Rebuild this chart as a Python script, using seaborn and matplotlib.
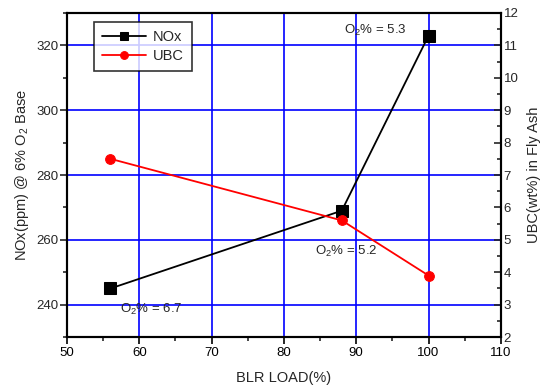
import matplotlib
matplotlib.use("Agg")
import matplotlib.pyplot as plt
import seaborn as sns
import pandas as pd
from matplotlib.ticker import MultipleLocator

load = [56, 88, 100]
nox = [245, 269, 323]
ubc = [7.5, 5.6, 3.9]
o2_labels = ["O$_2$% = 6.7", "O$_2$% = 5.2", "O$_2$% = 5.3"]

sns.set_theme(style="white")
plt.rcParams['font.family'] = ['Liberation Sans', 'DejaVu Sans']
plt.rcParams['mathtext.fontset'] = 'custom'
plt.rcParams['mathtext.rm'] = 'Liberation Sans'
plt.rcParams['mathtext.it'] = 'Liberation Sans'

df = pd.DataFrame({"load": load, "nox": nox, "ubc": ubc})

fig = plt.figure(figsize=(5.45, 3.92), dpi=100)
ax = fig.add_axes([0.123, 0.140, 0.796, 0.827])
ax2 = ax.twinx()

ax.set_xlim(50, 110)
ax.set_ylim(230, 330)
ax2.set_ylim(2, 12)

ax.xaxis.set_major_locator(MultipleLocator(10))
ax.xaxis.set_minor_locator(MultipleLocator(5))
ax.yaxis.set_major_locator(MultipleLocator(20))
ax.yaxis.set_minor_locator(MultipleLocator(10))
ax2.yaxis.set_major_locator(MultipleLocator(1))
ax2.yaxis.set_minor_locator(MultipleLocator(0.5))

ax.grid(True, which='major', color='#0000ff', linewidth=1.2)
ax.set_axisbelow(True)

sns.lineplot(data=df, x="load", y="nox", ax=ax, color='black', marker='s',
             markersize=8, markeredgecolor='black', linewidth=1.3, label='NOx', legend=False)
sns.lineplot(data=df, x="load", y="ubc", ax=ax2, color='#ff0000', marker='o',
             markersize=7, markeredgecolor='#ff0000', linewidth=1.3, label='UBC', legend=False)

for a in (ax, ax2):
    for s in a.spines.values():
        s.set_color('black')
        s.set_linewidth(1.5)

ts = 9.5
ax.tick_params(axis='x', which='major', direction='out', length=5, width=1.2, labelsize=ts, colors='black', bottom=True, pad=2)
ax.tick_params(axis='x', which='minor', direction='out', length=3, width=1.2, bottom=True)
ax.tick_params(axis='y', which='major', direction='out', length=5, width=1.2, labelsize=ts, left=True, pad=1)
ax.tick_params(axis='y', which='minor', direction='out', length=3, width=1.2, left=True)
ax2.tick_params(axis='y', which='major', direction='in', length=5, width=1.2, labelsize=ts, right=True, pad=2)
ax2.tick_params(axis='y', which='minor', direction='in', length=3, width=1.2, right=True)

ax.set_xlabel("BLR LOAD(%)", fontsize=10.5, labelpad=9)
ax.set_ylabel("NOx(ppm) @ 6% O$_2$ Base", fontsize=10.5, labelpad=4)
ax2.set_ylabel("UBC(wt%) in Fly Ash", fontsize=10.5, labelpad=6)

fs = 9.5
ax.text(57.3, 238.5, o2_labels[0], fontsize=fs, va='center', ha='left')
ax.text(84.3, 256.5, o2_labels[1], fontsize=fs, va='center', ha='left')
ax.text(88.3, 324.5, o2_labels[2], fontsize=fs, va='center', ha='left')

h1, l1 = ax.get_legend_handles_labels()
h2, l2 = ax2.get_legend_handles_labels()
leg = ax2.legend(h1 + h2, l1 + l2, loc='upper left', bbox_to_anchor=(0.062, 0.972),
                 fontsize=10.5, frameon=True, fancybox=False, edgecolor='black',
                 borderpad=0.55, handlelength=3, handletextpad=0.5, labelspacing=0.35,
                 markerscale=0.8, borderaxespad=0)
leg.get_frame().set_linewidth(1.2)

fig.savefig("out.png", dpi=100)
